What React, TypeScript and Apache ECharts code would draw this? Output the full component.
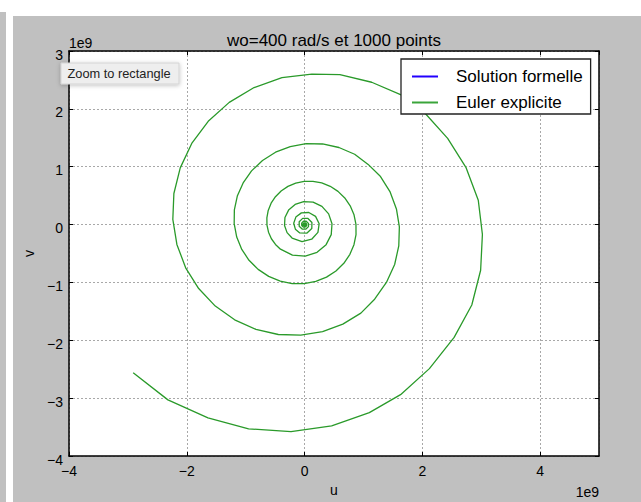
import React, { useEffect, useRef } from 'react';
import * as echarts from 'echarts';

const titleText = 'wo=400 rad/s et 1000 points';
const seriesNames = ['Solution formelle', 'Euler explicite'];
const xLabel = 'u';
const yLabel = 'v';
const offsetText = '1e9';

// Euler explicite, in units of 1e9, from the centre outward (time order)
const uEuler = [
  0, 0.008, 0.016, 0.006, -0.012, -0.018, -0.007, 0.014, 0.024, 0.01,
  -0.025, -0.027, -0.011, 0.015, 0.035, 0.036, 0.014, -0.021, -0.048, -0.049, -0.019, 0.029, 0.066, 0.067, 0.024,
  -0.041, -0.091, -0.091, -0.032, 0.058, 0.125, 0.123, 0.042, -0.081, -0.156, -0.184, -0.148, -0.054, 0.072, 0.187, 0.248,
  0.227, 0.121, -0.043, -0.212, -0.297, -0.34, -0.333, -0.271, -0.16, -0.015, 0.145, 0.295, 0.409, 0.466, 0.453, 0.366,
  0.212, 0.012, -0.206,
  -0.409, -0.494, -0.563, -0.612, -0.638, -0.64, -0.617, -0.568, -0.494, -0.398, -0.282, -0.15, -0.006, 0.143, 0.292, 0.436,
  0.568, 0.683, 0.775, 0.84, 0.873, 0.874, 0.839, 0.77, 0.667, 0.533, 0.373, 0.191, -0.005, -0.21, -0.413, -0.609, -0.788,
  -0.943, -1.066, -1.152, -1.195, -1.192, -1.142, -1.043, -0.9, -0.714, -0.493, -0.243, 0.027,
  0.306, 0.584, 0.851, 1.08, 1.29, 1.45, 1.56, 1.61, 1.6, 1.53, 1.39, 1.19, 0.956, 0.65, 0.306, -0.064,
  -0.446, -0.825, -1.187, -1.516, -1.798, -2.019, -2.168, -2.237, -2.219, -2.111, -1.916, -1.636, -1.279, -0.857, -0.384, 0.123,
  0.6, 1.14, 1.64, 2.05, 2.43, 2.74, 2.95, 3.02, 2.99, 2.84, 2.54, 2.12, 1.63, 1.1, 0.46, -0.23,
  -0.95, -1.64, -2.32, -2.91,
];
const vEuler = [
  0, 0.012, -0.004, -0.017, -0.01, 0.01, 0.02, 0.016, -0.006, -0.024,
  -0.009, 0.012, 0.03, 0.031, 0.012, -0.017, -0.041, -0.042, -0.016, 0.025, 0.057, 0.057, 0.021, -0.035, -0.078,
  -0.078, -0.028, 0.049, 0.107, 0.106, 0.036, -0.068, -0.147, -0.144, -0.079, 0.023, 0.129, 0.202, 0.209, 0.142, 0.014,
  -0.134, -0.253, -0.294, -0.233, -0.139, -0.015, 0.122, 0.25, 0.348, 0.398, 0.388, 0.315, 0.185, 0.014, -0.173, -0.347,
  -0.48, -0.545, -0.529,
  -0.425, -0.343, -0.245, -0.132, -0.01, 0.117, 0.245, 0.369, 0.482, 0.581, 0.66, 0.717, 0.747, 0.748, 0.719, 0.661,
  0.574, 0.46, 0.324, 0.169, 0.002, -0.173, -0.348, -0.515, -0.669, -0.802, -0.909, -0.983, -1.022, -1.021, -0.979, -0.896, -0.775,
  -0.617, -0.429, -0.216, 0.015, 0.253, 0.492, 0.72, 0.928, 1.108, 1.251, 1.349, 1.398,
  1.393, 1.332, 1.215, 1.04, 0.83, 0.57, 0.27, -0.04, -0.37, -0.69, -1.0, -1.29, -1.53, -1.721, -1.851, -1.912,
  -1.9, -1.811, -1.646, -1.409, -1.106, -0.747, -0.343, 0.09, 0.537, 0.98, 1.402, 1.785, 2.112, 2.368, 2.539, 2.6,
  2.59, 2.46, 2.24, 1.92, 1.49, 0.99, 0.42, -0.17, -0.79, -1.39, -1.95, -2.49, -2.94, -3.25, -3.48, -3.58,
  -3.53, -3.34, -3.03, -2.56,
];
// Solution formelle: hidden at the centre
const uFormelle = [0, 0];
const vFormelle = [0, 0];

const FONT = 'Liberation Sans, Arial, Helvetica, sans-serif';
const minus = (v: number) => String(v).replace('-', '\u2212');

export default function App() {
  const ref = useRef<HTMLDivElement>(null);
  useEffect(() => {
    const chart = echarts.init(ref.current!, null, { renderer: 'svg' });
    const axisLine = { show: true, onZero: false, lineStyle: { color: '#000', width: 1.5 } };
    const axisTick = { show: true, inside: true, length: 4, lineStyle: { color: '#000', width: 1 } };
    const split = { show: true, lineStyle: { color: '#a8a8a8', type: [2, 2], width: 1 } };
    chart.setOption({
      animation: false,
      backgroundColor: 'transparent',
      title: {
        text: titleText,
        left: 334,
        top: 30,
        textAlign: 'center',
        padding: 0,
        textStyle: { fontSize: 17, fontWeight: 'normal', color: '#000', fontFamily: FONT, lineHeight: 20 },
      },
      grid: { left: 69, top: 51, width: 530, height: 410, show: true, backgroundColor: '#fff', borderWidth: 0 },
      legend: {
        data: seriesNames,
        orient: 'vertical',
        left: 401,
        top: 59,
        padding: [9, 8, 3, 11],
        itemGap: 9,
        itemWidth: 26,
        itemHeight: 2,
        icon: 'rect',
        borderColor: '#222',
        borderWidth: 1.3,
        borderRadius: 0,
        backgroundColor: '#fff',
        selectedMode: false,
        textStyle: { fontSize: 17, lineHeight: 16, color: '#000', fontFamily: FONT, padding: [0, 0, 0, 13] },
      },
      xAxis: [
        {
          type: 'value', min: -4, max: 5, interval: 2, position: 'bottom',
          axisLine, axisTick, splitLine: split,
          axisLabel: { showMaxLabel: false, margin: 8, fontSize: 14, color: '#000', fontFamily: FONT, formatter: minus },
          name: xLabel, nameLocation: 'middle', nameGap: 27,
          nameTextStyle: { fontSize: 14, color: '#000', fontFamily: FONT },
        },
        {
          type: 'value', min: -4, max: 5, interval: 2, position: 'top',
          axisLine, axisTick, splitLine: { show: false }, axisLabel: { show: false },
        },
      ],
      yAxis: [
        {
          type: 'value', min: -4, max: 3, interval: 1, position: 'left',
          axisLine, axisTick, splitLine: split,
          axisLabel: { margin: 6, fontSize: 14, color: '#000', fontFamily: FONT, formatter: minus, verticalAlign: 'top', lineHeight: 7 },
          name: yLabel, nameLocation: 'middle', nameGap: 26,
          nameTextStyle: { fontSize: 14, color: '#000', fontFamily: FONT },
        },
        {
          type: 'value', min: -4, max: 3, interval: 1, position: 'right',
          axisLine, axisTick, splitLine: { show: false }, axisLabel: { show: false },
        },
      ],
      series: [
        {
          name: seriesNames[0], type: 'line', xAxisIndex: 0, yAxisIndex: 0,
          data: uFormelle.map((u, i) => [u, vFormelle[i]]),
          symbol: 'none', lineStyle: { color: '#2200ff', width: 1.2 }, itemStyle: { color: '#2200ff' },
        },
        {
          name: seriesNames[1], type: 'line', xAxisIndex: 0, yAxisIndex: 0,
          data: uEuler.map((u, i) => [u, vEuler[i]]),
          symbol: 'none', lineStyle: { color: '#2a9a2a', width: 1.3 }, itemStyle: { color: '#3aa53a' },
        },
      ],
      graphic: [
        { type: 'text', z: 50, style: { x: 69, y: 43, text: offsetText, fontSize: 14, fontFamily: FONT, fill: '#000', verticalAlign: 'middle' } },
        { type: 'text', z: 50, style: { x: 599, y: 492, text: offsetText, fontSize: 14, fontFamily: FONT, fill: '#000', align: 'right', verticalAlign: 'middle' } },
        {
          type: 'rect', z: 100,
          shape: { x: 61, y: 63, width: 118, height: 21 },
          style: { fill: '#eeeeee', stroke: '#d4d4d4', lineWidth: 1, shadowBlur: 4, shadowColor: 'rgba(0,0,0,0.25)', shadowOffsetY: 1 },
        },
        { type: 'text', z: 101, style: { x: 67.5, y: 73.5, text: 'Zoom to rectangle', fontSize: 12.8, fontFamily: FONT, fill: '#222', verticalAlign: 'middle' } },
      ],
    });
    return () => chart.dispose();
  }, []);
  return (
    <div style={{ position: 'fixed', left: 0, top: 0, width: 641, height: 502, background: '#fff', overflow: 'hidden' }}>
      <div style={{ position: 'absolute', left: 0, top: 12, width: 6, height: 490, background: '#c0c0c0' }} />
      <div style={{ position: 'absolute', left: 13, top: 16, width: 628, height: 486, background: '#c0c0c0' }} />
      <div ref={ref} style={{ position: 'absolute', left: 0, top: 0, width: 641, height: 502 }} />
    </div>
  );
}
